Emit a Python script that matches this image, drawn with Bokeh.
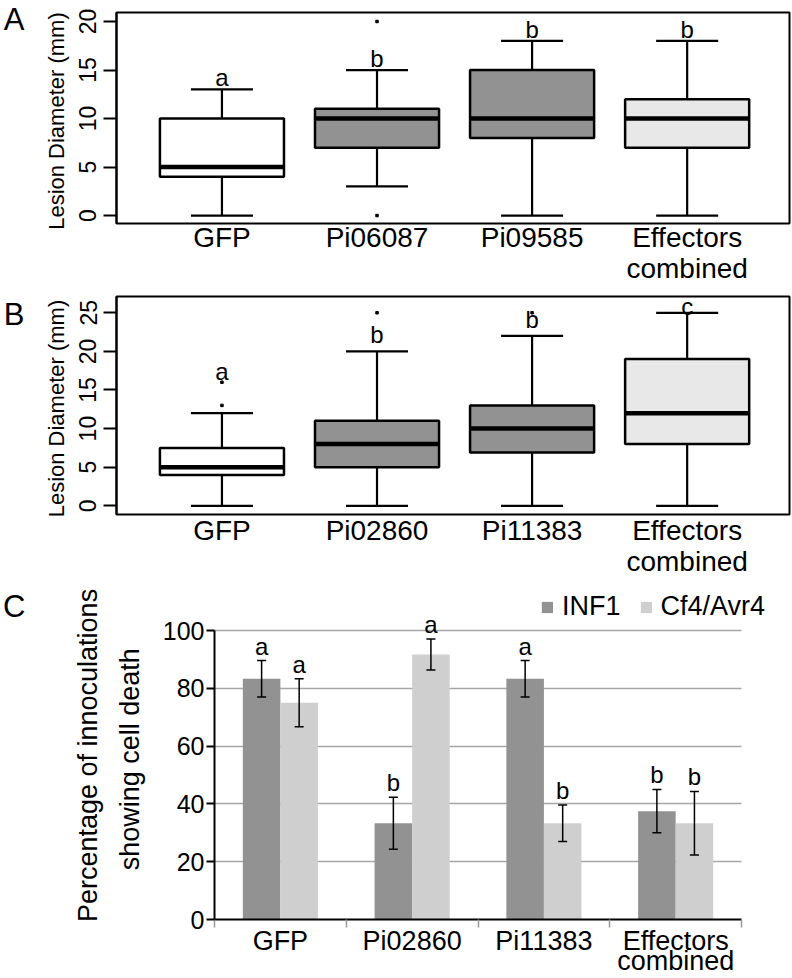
from bokeh.plotting import figure
from bokeh.models import (Range1d, FixedTicker, LinearAxis, Legend, LegendItem, Whisker,
                          TeeHead, ColumnDataSource)
from bokeh.transform import dodge
from bokeh.core.properties import value
from bokeh.embed import file_html
from bokeh.resources import INLINE

FONT = "Liberation Sans"

# ---------------- data: panel A ----------------
a_groups = ["GFP", "Pi06087", "Pi09585", "Effectors\ncombined"]
a_low = [0, 3, 0, 0]
a_q1 = [4, 7, 8, 7]
a_med = [5, 10, 10, 10]
a_q3 = [10, 11, 15, 12]
a_high = [13, 15, 18, 18]
a_out_group = ["Pi06087", "Pi06087"]
a_out_val = [20, 0]
a_letters = ["a", "b", "b", "b"]
a_letter_y = [14.2, 16.15, 19.15, 19.15]

# ---------------- data: panel B ----------------
b_groups = ["GFP", "Pi02860", "Pi11383", "Effectors\ncombined"]
b_low = [0, 0, 0, 0]
b_q1 = [4, 5, 6.9, 8]
b_med = [5, 8, 10, 12]
b_q3 = [7.5, 11, 13, 19]
b_high = [12, 20, 22, 25]
b_out_group = ["GFP", "GFP", "Pi02860", "Pi11383"]
b_out_val = [13, 16, 25, 25]
b_letters = ["a", "b", "b", "c"]
b_letter_y = [17.4, 22.2, 24.1, 25.8]

# ---------------- data: panel C ----------------
c_groups = ["GFP", "Pi02860", "Pi11383", "Effectors\ncombined"]
inf1 = [83.3, 33.3, 83.3, 37.5]
inf1_err = [6.3, 9.0, 6.3, 7.5]
cf4 = [75.0, 91.7, 33.3, 33.3]
cf4_err = [8.3, 5.4, 6.3, 11.0]
inf1_letters = ["a", "b", "a", "b"]
cf4_letters = ["a", "a", "b", "b"]

DARK = "#929292"
LIGHT = "#e8e8e8"
box_fills = ["white", DARK, DARK, LIGHT]


def panel_letter(p, letter, yval, standoff):
    ax = LinearAxis(ticker=FixedTicker(ticks=[yval]),
                    major_label_overrides={yval: letter},
                    axis_line_color=None, major_tick_line_color=None,
                    minor_tick_line_color=None, major_tick_out=0, major_tick_in=0,
                    minor_tick_out=0, minor_tick_in=0,
                    major_label_standoff=standoff, major_label_text_font=FONT,
                    major_label_text_font_size="31px", major_label_text_color="black",
                    major_label_orientation="horizontal")
    p.add_layout(ax, "left")


def box_panel(groups, low, q1, med, q3, high, out_group, out_val, letters, letter_y,
              yrng, yticks, height, btop, bbottom, lab_lh, lab_standoff):
    xs = list(range(1, len(groups) + 1))
    pos = dict(zip(groups, xs))
    p = figure(width=792, height=height, output_backend="svg", toolbar_location=None,
               x_range=Range1d(0.32, 4.66), y_range=Range1d(*yrng),
               min_border_left=113, min_border_right=3, min_border_top=btop,
               min_border_bottom=bbottom)
    p.xgrid.visible = False
    p.ygrid.visible = False
    p.outline_line_color = "black"
    p.outline_line_width = 2
    p.outline_line_alpha = 1

    src = ColumnDataSource(dict(x=xs, low=low, q1=q1, med=med, q3=q3, high=high,
                                fill=box_fills, letter=letters, ly=letter_y))
    lw = 2.2
    p.segment(x0="x", y0="low", x1="x", y1="q1", source=src, line_color="black", line_width=lw)
    p.segment(x0="x", y0="q3", x1="x", y1="high", source=src, line_color="black", line_width=lw)
    p.segment(x0=dodge("x", -0.2), y0="low", x1=dodge("x", 0.2), y1="low", source=src,
              line_color="black", line_width=lw)
    p.segment(x0=dodge("x", -0.2), y0="high", x1=dodge("x", 0.2), y1="high", source=src,
              line_color="black", line_width=lw)
    p.vbar(x="x", width=0.8, bottom="q1", top="q3", source=src, fill_color="fill",
           line_color="black", line_width=2.5)
    p.segment(x0=dodge("x", -0.4), y0="med", x1=dodge("x", 0.4), y1="med", source=src,
              line_color="black", line_width=4.5, line_cap="butt")
    p.scatter(x=[pos[g] for g in out_group], y=out_val, marker="square", size=2.5,
              color="black")
    p.text(x="x", y="ly", text="letter", source=src, text_align="center",
           text_baseline="middle", text_font=value(FONT), text_font_size="24px",
           text_color="black")

    yax = p.yaxis[0]
    yax.ticker = FixedTicker(ticks=yticks)
    yax.major_label_orientation = "vertical"
    yax.major_tick_out = 13
    yax.major_tick_in = 0
    yax.major_tick_line_width = 2
    yax.major_tick_line_color = "black"
    yax.minor_tick_line_color = None
    yax.axis_line_width = 2
    yax.axis_line_color = "black"
    yax.major_label_text_font = FONT
    yax.major_label_text_font_size = "23px"
    yax.major_label_text_color = "black"
    yax.major_label_standoff = 7
    yax.axis_label = "Lesion  Diameter (mm)"
    yax.axis_label_text_font = FONT
    yax.axis_label_text_font_size = "22px"
    yax.axis_label_text_font_style = "normal"
    yax.axis_label_text_color = "black"
    yax.axis_label_standoff = 8

    xax = p.xaxis[0]
    xax.ticker = FixedTicker(ticks=xs)
    xax.major_label_overrides = {x: g for x, g in zip(xs, groups)}
    xax.major_tick_out = 0
    xax.major_tick_in = 0
    xax.minor_tick_line_color = None
    xax.axis_line_color = None
    xax.major_label_text_font = FONT
    xax.major_label_text_font_size = "28px"
    xax.major_label_text_color = "black"
    xax.major_label_standoff = lab_standoff
    xax.major_label_text_line_height = lab_lh
    return p


pA = box_panel(a_groups, a_low, a_q1, a_med, a_q3, a_high, a_out_group, a_out_val,
               a_letters, a_letter_y, (-0.82, 20.93), [0, 5, 10, 15, 20], 292, 12, 69,
               1.02, -2)
panel_letter(pA, "A", 20.5, 16)
pB = box_panel(b_groups, b_low, b_q1, b_med, b_q3, b_high, b_out_group, b_out_val,
               b_letters, b_letter_y, (-1.13, 27.11), [0, 5, 10, 15, 20, 25], 291, 4, 69,
               1.02, 0)
panel_letter(pB, "B", 25.94, 16)

# ---------------- panel C ----------------
centers = [i + 0.5 for i in range(len(c_groups))]
off = 0.1425
bw = 0.285
srcC = ColumnDataSource(dict(
    xi=[c - off for c in centers], xc=[c + off for c in centers],
    inf1=inf1, cf4=cf4,
    inf1_up=[v + e for v, e in zip(inf1, inf1_err)],
    inf1_lo=[v - e for v, e in zip(inf1, inf1_err)],
    cf4_up=[v + e for v, e in zip(cf4, cf4_err)],
    cf4_lo=[v - e for v, e in zip(cf4, cf4_err)],
    inf1_let=inf1_letters, cf4_let=cf4_letters))

pC = figure(width=792, height=395, output_backend="svg", toolbar_location=None,
            x_range=Range1d(0, 4.1818), y_range=Range1d(0, 113.5),
            min_border_left=213, min_border_right=27, min_border_top=8,
            min_border_bottom=51)
pC.outline_line_color = None
pC.xgrid.visible = False
g = pC.ygrid[0]
g.ticker = FixedTicker(ticks=[20, 40, 60, 80, 100])
g.grid_line_color = "#a6a6a6"
g.grid_line_width = 1.5
g.cross_bounds = (0, 4)

r1 = pC.vbar(x="xi", top="inf1", width=bw, source=srcC, fill_color=DARK, line_color=None)
r2 = pC.vbar(x="xc", top="cf4", width=bw, source=srcC, fill_color="#cfcfcf", line_color=None)
for base, up, lo in (("xi", "inf1_up", "inf1_lo"), ("xc", "cf4_up", "cf4_lo")):
    w = Whisker(base=base, upper=up, lower=lo, source=srcC, line_width=1.5,
                line_color="black", level="annotation",
                upper_head=TeeHead(size=9, line_width=1.5, line_color="black"),
                lower_head=TeeHead(size=9, line_width=1.5, line_color="black"))
    pC.add_layout(w)
pC.text(x="xi", y="inf1_up", text="inf1_let", source=srcC, y_offset=-14.5,
        text_align="center", text_baseline="middle", text_font=value(FONT),
        text_font_size="24px", text_color="black")
pC.text(x="xc", y="cf4_up", text="cf4_let", source=srcC, y_offset=-14.5,
        text_align="center", text_baseline="middle", text_font=value(FONT),
        text_font_size="24px", text_color="black")

yC = pC.yaxis[0]
yC.ticker = FixedTicker(ticks=[0, 20, 40, 60, 80, 100])
yC.bounds = (0, 100)
yC.axis_line_width = 2
yC.axis_line_color = "black"
yC.major_tick_out = 8
yC.major_tick_in = 0
yC.major_tick_line_width = 2
yC.major_tick_line_color = "black"
yC.minor_tick_line_color = None
yC.major_label_text_font = FONT
yC.major_label_text_font_size = "25px"
yC.major_label_text_color = "black"
yC.major_label_standoff = 2
yC.axis_label = "Percentage of innoculations\nshowing  cell death"
yC.axis_label_text_font = FONT
yC.axis_label_text_font_size = "27px"
yC.axis_label_text_font_style = "normal"
yC.axis_label_text_color = "black"
yC.axis_label_text_line_height = 1.38
yC.axis_label_standoff = 15

xC = pC.xaxis[0]
xC.ticker = FixedTicker(ticks=centers, minor_ticks=[0, 1, 2, 3, 4])
xC.bounds = (0, 4)
xC.major_label_overrides = {c: gname for c, gname in zip(centers, c_groups)}
xC.axis_line_width = 2
xC.axis_line_color = "black"
xC.major_tick_out = 0
xC.major_tick_in = 0
xC.minor_tick_out = 8
xC.minor_tick_in = 0
xC.minor_tick_line_color = "#9a9a9a"
xC.minor_tick_line_width = 1.5
xC.major_label_text_font = FONT
xC.major_label_text_font_size = "27px"
xC.major_label_text_color = "black"
xC.major_label_standoff = -2
xC.major_label_text_line_height = 0.68

legend = Legend(items=[LegendItem(label="INF1", renderers=[r1]),
                       LegendItem(label="Cf4/Avr4", renderers=[r2])],
                orientation="horizontal", location="top_right",
                border_line_color=None, background_fill_alpha=0,
                label_text_font=FONT, label_text_font_size="27px",
                label_text_color="black", glyph_width=14, glyph_height=14,
                label_height=28, label_standoff=8, spacing=18, margin=0, padding=0)
pC.add_layout(legend)
panel_letter(pC, "C", 112.0, 45)

open("out.html", "w").write(file_html([pA, pB, pC], INLINE))
